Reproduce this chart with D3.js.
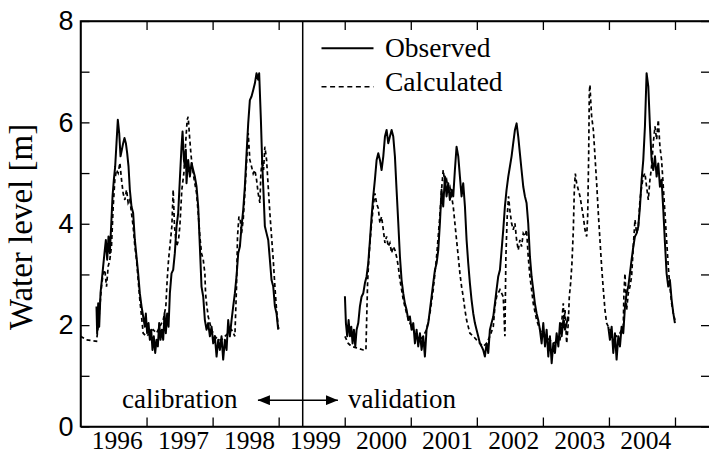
<!DOCTYPE html>
<html><head><meta charset="utf-8">
<script src="https://cdn.jsdelivr.net/npm/d3@7"></script>
<style>
html,body{margin:0;padding:0;background:#fff;}
svg{display:block;}
</style></head>
<body>
<script>
// ---------------- data ----------------
const yearLabels = ["1996","1997","1998","1999","2000","2001","2002","2003","2004"];
const yearTicks = [1997,1998,1999,2000,2001,2002,2003,2004,2005];
const yMajorTicks = [0,2,4,6,8];
const yAllTicks = [0,1,2,3,4,5,6,7,8];
const splitYear = 1999.364;
const legendLabels = ["Observed","Calculated"];
const periodLabels = ["calibration","validation"];

// observed (decimal year, water level m)
const observedCalib = [[1996.242,2.37],[1996.252,1.84],[1996.268,2.43],[1996.283,1.97],[1996.303,2.63],[1996.323,2.89],[1996.343,3.16],[1996.363,3.42],[1996.384,3.68],[1996.404,3.29],[1996.424,3.75],[1996.444,3.42],[1996.464,3.95],[1996.485,4.54],[1996.505,4.87],[1996.525,5.13],[1996.545,5.59],[1996.565,6.05],[1996.586,5.79],[1996.606,5.33],[1996.626,5.46],[1996.646,5.59],[1996.666,5.69],[1996.687,5.59],[1996.707,5.39],[1996.727,5.13],[1996.747,4.67],[1996.772,4.34],[1996.797,4.21],[1996.823,3.68],[1996.848,3.35],[1996.873,3.02],[1996.898,2.63],[1996.924,2.37],[1996.949,2.17],[1996.974,1.97],[1996.989,2.23],[1997.009,1.84],[1997.03,2.04],[1997.05,1.71],[1997.07,1.91],[1997.09,1.51],[1997.11,1.78],[1997.131,1.45],[1997.151,1.71],[1997.171,1.58],[1997.191,2.04],[1997.211,1.71],[1997.232,1.91],[1997.252,1.71],[1997.272,2.23],[1997.292,1.84],[1997.312,2.23],[1997.333,1.97],[1997.353,2.63],[1997.378,3.02],[1997.403,3.09],[1997.428,3.42],[1997.454,3.95],[1997.479,4.21],[1997.504,4.87],[1997.529,5.52],[1997.545,5.82],[1997.565,5.26],[1997.58,5.13],[1997.595,5.46],[1997.605,4.8],[1997.615,5.0],[1997.63,5.26],[1997.656,4.93],[1997.681,5.2],[1997.706,5.06],[1997.731,4.93],[1997.757,4.73],[1997.782,4.34],[1997.807,3.55],[1997.832,2.76],[1997.858,2.56],[1997.883,2.1],[1997.908,1.91],[1997.933,2.04],[1997.959,1.78],[1997.984,1.97],[1998.009,1.64],[1998.034,1.78],[1998.06,1.38],[1998.085,1.71],[1998.11,1.51],[1998.135,1.78],[1998.16,1.32],[1998.186,1.71],[1998.211,1.51],[1998.236,2.1],[1998.261,1.78],[1998.287,2.1],[1998.312,2.37],[1998.337,2.63],[1998.362,2.96],[1998.388,3.42],[1998.413,3.55],[1998.438,3.95],[1998.463,4.27],[1998.488,4.73],[1998.514,5.39],[1998.539,5.98],[1998.564,6.44],[1998.589,6.51],[1998.615,6.64],[1998.64,6.77],[1998.665,6.97],[1998.69,6.84],[1998.705,6.97],[1998.731,6.05],[1998.751,5.2],[1998.771,4.6],[1998.791,3.95],[1998.817,3.81],[1998.842,3.68],[1998.867,3.29],[1998.892,2.89],[1998.918,2.76],[1998.943,2.37],[1998.968,2.23],[1998.993,1.91]];

const observedValid1 = [[2000.003,2.57],[2000.018,2.04],[2000.038,1.78],[2000.059,2.1],[2000.079,1.78],[2000.099,1.97],[2000.119,1.64],[2000.139,1.91],[2000.16,1.58],[2000.18,1.91],[2000.205,2.04],[2000.23,2.37],[2000.255,2.56],[2000.281,2.63],[2000.306,2.83],[2000.331,2.96],[2000.356,3.22],[2000.382,3.68],[2000.407,4.14],[2000.432,4.54],[2000.457,4.87],[2000.483,5.26],[2000.508,5.39],[2000.533,5.26],[2000.558,5.06],[2000.584,5.33],[2000.609,5.72],[2000.634,5.85],[2000.659,5.59],[2000.684,5.72],[2000.71,5.85],[2000.735,5.72],[2000.76,5.33],[2000.785,4.67],[2000.811,4.01],[2000.836,3.35],[2000.861,2.89],[2000.886,2.63],[2000.911,2.43],[2000.937,2.3],[2000.962,2.1],[2000.987,2.17],[2001.012,1.91],[2001.038,2.04],[2001.063,1.64],[2001.088,1.91],[2001.113,1.58],[2001.139,1.84],[2001.164,1.51],[2001.189,1.78],[2001.214,1.38],[2001.239,1.91],[2001.265,2.04],[2001.29,2.3],[2001.315,2.56],[2001.34,2.83],[2001.366,3.09],[2001.391,3.22],[2001.416,3.48],[2001.441,4.01],[2001.466,4.67],[2001.491,4.34],[2001.517,4.93],[2001.542,4.54],[2001.567,4.8],[2001.592,4.47],[2001.618,4.67],[2001.643,4.54],[2001.668,5.06],[2001.693,5.52],[2001.719,5.33],[2001.744,4.93],[2001.769,4.54],[2001.794,4.8],[2001.82,4.34],[2001.845,3.68],[2001.87,3.22],[2001.895,2.83],[2001.92,2.5],[2001.946,2.23],[2001.971,2.04],[2001.996,1.91],[2002.021,1.78],[2002.047,1.64],[2002.072,1.58],[2002.097,1.51],[2002.122,1.38],[2002.148,1.64],[2002.173,1.45],[2002.198,1.91],[2002.223,2.04],[2002.249,2.17],[2002.274,2.43],[2002.299,2.7],[2002.324,2.96],[2002.35,3.09],[2002.375,3.48],[2002.4,3.88],[2002.425,4.34],[2002.45,4.67],[2002.476,4.93],[2002.501,5.13],[2002.526,5.33],[2002.551,5.59],[2002.577,5.85],[2002.602,5.98],[2002.627,5.72],[2002.652,5.39],[2002.677,5.06],[2002.703,4.73],[2002.728,4.54],[2002.753,4.41],[2002.778,4.01],[2002.804,3.35],[2002.829,2.96],[2002.854,2.7],[2002.879,2.43],[2002.905,2.23],[2002.93,2.1],[2002.955,1.91],[2002.981,1.64],[2003.006,2.04],[2003.032,1.58],[2003.057,1.91],[2003.082,1.38],[2003.107,1.78],[2003.133,1.25],[2003.158,1.64],[2003.183,1.45],[2003.208,1.84],[2003.234,1.58],[2003.259,2.04],[2003.284,1.78],[2003.309,2.1],[2003.335,1.91],[2003.36,2.04],[2003.385,2.17]];

const observedValid2 = [[2003.99,1.97],[2004.015,1.71],[2004.041,1.97],[2004.066,1.45],[2004.091,1.84],[2004.116,1.32],[2004.142,1.78],[2004.167,1.58],[2004.192,1.97],[2004.217,1.84],[2004.243,2.37],[2004.268,2.63],[2004.293,2.76],[2004.318,3.02],[2004.343,3.29],[2004.369,3.55],[2004.394,3.75],[2004.419,3.81],[2004.444,3.94],[2004.47,4.34],[2004.495,4.87],[2004.52,5.26],[2004.545,5.92],[2004.57,6.97],[2004.596,6.71],[2004.621,5.92],[2004.646,5.26],[2004.671,5.06],[2004.697,5.33],[2004.722,4.93],[2004.747,5.19],[2004.772,4.73],[2004.797,4.87],[2004.823,4.27],[2004.848,3.62],[2004.873,3.02],[2004.898,2.76],[2004.923,2.89],[2004.949,2.5],[2004.974,2.24],[2004.999,2.04]];

// calculated
const calculatedCalib = [[1996.0,1.78],[1996.091,1.71],[1996.242,1.68],[1996.268,1.97],[1996.293,2.37],[1996.318,2.76],[1996.343,3.02],[1996.368,3.09],[1996.394,2.76],[1996.419,3.16],[1996.444,3.29],[1996.469,3.55],[1996.495,4.34],[1996.52,4.87],[1996.545,5.06],[1996.57,5.0],[1996.596,5.2],[1996.621,4.87],[1996.646,4.6],[1996.671,4.47],[1996.697,4.67],[1996.722,4.41],[1996.747,4.47],[1996.772,4.21],[1996.797,3.95],[1996.823,3.55],[1996.848,3.29],[1996.873,2.89],[1996.898,2.5],[1996.924,2.17],[1996.949,1.84],[1996.999,1.78],[1997.05,1.84],[1997.1,1.91],[1997.15,1.84],[1997.201,1.97],[1997.252,2.1],[1997.292,2.37],[1997.312,2.89],[1997.333,3.29],[1997.353,3.55],[1997.383,3.95],[1997.403,4.67],[1997.423,3.95],[1997.454,3.55],[1997.484,3.68],[1997.504,3.95],[1997.534,4.67],[1997.565,5.0],[1997.595,5.66],[1997.615,6.05],[1997.63,6.11],[1997.651,5.72],[1997.671,5.39],[1997.691,5.13],[1997.721,4.87],[1997.757,4.6],[1997.782,4.21],[1997.807,3.75],[1997.832,3.42],[1997.858,3.29],[1997.883,3.02],[1997.893,2.63],[1997.908,2.43],[1997.933,2.17],[1997.984,1.91],[1998.034,1.78],[1998.085,1.71],[1998.135,1.71],[1998.186,1.78],[1998.236,1.84],[1998.287,1.91],[1998.337,1.78],[1998.362,2.76],[1998.377,3.75],[1998.398,4.14],[1998.418,4.08],[1998.438,3.81],[1998.463,4.08],[1998.488,4.6],[1998.514,5.2],[1998.539,5.79],[1998.564,5.26],[1998.589,5.13],[1998.615,4.99],[1998.64,5.06],[1998.665,4.87],[1998.69,4.6],[1998.716,4.41],[1998.731,5.0],[1998.751,5.26],[1998.771,5.06],[1998.791,5.52],[1998.817,5.26],[1998.842,4.73],[1998.867,4.21],[1998.892,3.75],[1998.918,3.29],[1998.943,2.76],[1998.968,2.3],[1998.993,1.97],[1999.008,1.91]];

const calculatedValid = [[2000.003,1.78],[2000.053,1.64],[2000.104,1.58],[2000.18,1.55],[2000.281,1.51],[2000.321,1.51],[2000.331,2.04],[2000.346,2.83],[2000.361,3.22],[2000.382,3.62],[2000.407,4.01],[2000.432,4.34],[2000.457,4.6],[2000.483,4.4],[2000.508,4.3],[2000.533,4.01],[2000.558,4.14],[2000.584,3.88],[2000.609,3.62],[2000.634,3.75],[2000.659,3.55],[2000.684,3.62],[2000.71,3.42],[2000.735,3.55],[2000.76,3.48],[2000.785,3.35],[2000.811,3.16],[2000.836,2.89],[2000.861,2.7],[2000.886,2.5],[2000.937,2.23],[2000.987,2.04],[2001.038,1.91],[2001.088,1.78],[2001.139,1.71],[2001.189,1.78],[2001.239,1.91],[2001.29,2.23],[2001.34,2.7],[2001.391,3.35],[2001.441,4.17],[2001.466,4.67],[2001.491,5.06],[2001.517,4.8],[2001.542,4.87],[2001.567,4.67],[2001.592,4.73],[2001.618,4.54],[2001.643,4.34],[2001.668,4.01],[2001.693,3.68],[2001.719,3.35],[2001.744,3.02],[2001.769,2.76],[2001.794,2.56],[2001.82,2.3],[2001.845,2.1],[2001.87,1.97],[2001.895,1.84],[2001.946,1.78],[2001.996,1.71],[2002.047,1.64],[2002.097,1.58],[2002.148,1.64],[2002.198,1.78],[2002.249,1.97],[2002.274,2.37],[2002.299,2.56],[2002.35,2.7],[2002.4,2.56],[2002.425,1.78],[2002.44,3.35],[2002.46,4.14],[2002.48,4.54],[2002.5,4.27],[2002.526,4.01],[2002.551,3.88],[2002.577,4.01],[2002.602,3.68],[2002.627,3.48],[2002.652,3.68],[2002.677,3.55],[2002.703,3.81],[2002.728,3.75],[2002.753,3.88],[2002.778,3.35],[2002.804,2.96],[2002.829,2.7],[2002.854,2.43],[2002.905,2.1],[2002.955,1.91],[2003.006,1.78],[2003.057,1.76],[2003.158,1.64],[2003.259,1.71],[2003.284,2.04],[2003.309,2.43],[2003.32,2.04],[2003.335,2.3],[2003.36,1.64],[2003.385,2.04],[2003.4,2.56],[2003.42,2.83],[2003.44,3.22],[2003.461,3.88],[2003.476,4.67],[2003.491,4.99],[2003.511,4.8],[2003.536,4.67],[2003.562,4.54],[2003.587,4.34],[2003.612,4.14],[2003.637,3.88],[2003.663,3.75],[2003.678,4.14],[2003.693,5.33],[2003.703,6.6],[2003.713,6.74],[2003.723,6.45],[2003.738,6.12],[2003.764,5.85],[2003.789,5.33],[2003.814,4.8],[2003.839,4.21],[2003.864,3.68],[2003.889,3.16],[2003.915,2.7],[2003.94,2.3],[2003.965,2.04],[2003.99,1.97],[2004.015,1.91],[2004.066,1.84],[2004.116,1.78],[2004.167,1.84],[2004.217,1.97],[2004.227,2.63],[2004.243,3.02],[2004.268,2.3],[2004.293,2.63],[2004.318,2.76],[2004.343,2.96],[2004.369,3.55],[2004.394,4.08],[2004.419,3.81],[2004.444,3.94],[2004.47,4.47],[2004.495,4.73],[2004.52,4.93],[2004.545,5.0],[2004.57,4.73],[2004.596,4.47],[2004.621,4.87],[2004.646,5.13],[2004.671,5.59],[2004.697,5.92],[2004.722,5.66],[2004.747,6.05],[2004.772,5.52],[2004.797,5.26],[2004.823,4.73],[2004.848,4.21],[2004.873,3.68],[2004.898,3.16],[2004.923,2.76],[2004.949,2.43],[2004.974,2.24],[2004.999,2.1]];

// ---------------- chart ----------------
const W = 709, H = 454;
const svg = d3.select("body").append("svg").attr("width", W).attr("height", H);

const x = d3.scaleLinear().domain([1996, 2005.53]).range([80.5, 710]);
const y = d3.scaleLinear().domain([0, 8]).range([426.5, 21]);
const [x0, x1] = x.range();
const [yb, yt] = y.range();

const serif = "'Liberation Serif','Times New Roman',serif";
const sans = "'Liberation Sans',Arial,sans-serif";

const line = d3.line().x(d => x(d[0])).y(d => y(d[1]));

// data lines
const gData = svg.append("g");
[observedCalib, observedValid1, observedValid2].forEach(s => {
  gData.append("path").attr("d", line(s)).attr("fill","none")
    .attr("stroke","#000").attr("stroke-width",2).attr("stroke-linejoin","round");
});
[calculatedCalib, calculatedValid].forEach(s => {
  gData.append("path").attr("d", line(s)).attr("fill","none")
    .attr("stroke","#000").attr("stroke-width",1.7).attr("stroke-dasharray","4,3");
});

// axes (ticks inward)
const axL = svg.append("g").attr("transform",`translate(${x0},0)`)
  .call(d3.axisLeft(y).tickValues(yAllTicks).tickSizeInner(-9).tickSizeOuter(0).tickPadding(7)
    .tickFormat(d => yMajorTicks.includes(d) ? String(d) : ""));
axL.selectAll("text").attr("font-family", sans).attr("font-size", 27).attr("fill","#000");

svg.append("g").attr("transform",`translate(${x1},0)`)
  .call(d3.axisRight(y).tickValues(yAllTicks).tickSizeInner(-9).tickSizeOuter(0).tickFormat(""));

svg.append("g").attr("transform",`translate(0,${yb})`)
  .call(d3.axisBottom(x).tickValues(yearTicks).tickSizeInner(-9).tickSizeOuter(0).tickFormat(""));
svg.append("g").attr("transform",`translate(0,${yt})`)
  .call(d3.axisTop(x).tickValues(yearTicks).tickSizeInner(-9).tickSizeOuter(0).tickFormat(""));

// year labels
const axLab = svg.append("g").attr("transform",`translate(0,${yb})`)
  .call(d3.axisBottom(x).tickValues(yearLabels.map(s => +s + 0.55)).tickSize(0).tickPadding(4.5)
    .tickFormat((d,i) => yearLabels[i]));
axLab.select(".domain").remove();
axLab.selectAll("text").attr("font-family", serif).attr("font-size", 25.5).attr("fill","#000");

svg.selectAll(".domain").attr("stroke","#000").attr("stroke-width",1.5);
svg.selectAll(".tick line").attr("stroke","#000").attr("stroke-width",1.3);

// frame
svg.append("rect").attr("x", x0).attr("y", yt).attr("width", x1 - x0).attr("height", yb - yt)
  .attr("fill","none").attr("stroke","#000").attr("stroke-width",1.5);

// divider
svg.append("line").attr("x1", x(splitYear)).attr("x2", x(splitYear)).attr("y1", yt).attr("y2", yb)
  .attr("stroke","#000").attr("stroke-width",1.5);

// y title
svg.append("text").attr("transform","translate(32,227) rotate(-90)")
  .attr("text-anchor","middle").attr("font-family", serif).attr("font-size", 33)
  .attr("fill","#000").text("Water level [m]");

// legend
const lg = svg.append("g");
lg.append("line").attr("x1",321.5).attr("x2",373.5).attr("y1",48.3).attr("y2",48.3)
  .attr("stroke","#000").attr("stroke-width",1.9);
lg.append("line").attr("x1",321.5).attr("x2",373.5).attr("y1",86.7).attr("y2",86.7)
  .attr("stroke","#000").attr("stroke-width",1.6).attr("stroke-dasharray","5,3.6");
lg.append("text").attr("x",385).attr("y",57).attr("font-family",serif).attr("font-size",27.5)
  .attr("fill","#000").text(legendLabels[0]);
lg.append("text").attr("x",385).attr("y",91).attr("font-family",serif).attr("font-size",27.5)
  .attr("fill","#000").text(legendLabels[1]);

// period annotation
const defs = svg.append("defs");
defs.append("marker").attr("id","ah").attr("viewBox","0 0 12 10").attr("refX",12).attr("refY",5)
  .attr("markerWidth",12).attr("markerHeight",10).attr("markerUnits","userSpaceOnUse")
  .attr("orient","auto-start-reverse")
  .append("path").attr("d","M0,0 L12,5 L0,10 Z").attr("fill","#000");
const ay = y(0.52);
svg.append("line").attr("x1", x(1998.686)).attr("x2", x(1999.897)).attr("y1", ay).attr("y2", ay)
  .attr("stroke","#000").attr("stroke-width",1.5)
  .attr("marker-start","url(#ah)").attr("marker-end","url(#ah)");
svg.append("text").attr("x",122).attr("y",408).attr("font-family",serif).attr("font-size",27)
  .attr("fill","#000").text(periodLabels[0]);
svg.append("text").attr("x",348).attr("y",408).attr("font-family",serif).attr("font-size",27)
  .attr("fill","#000").text(periodLabels[1]);
</script>
</body></html>
